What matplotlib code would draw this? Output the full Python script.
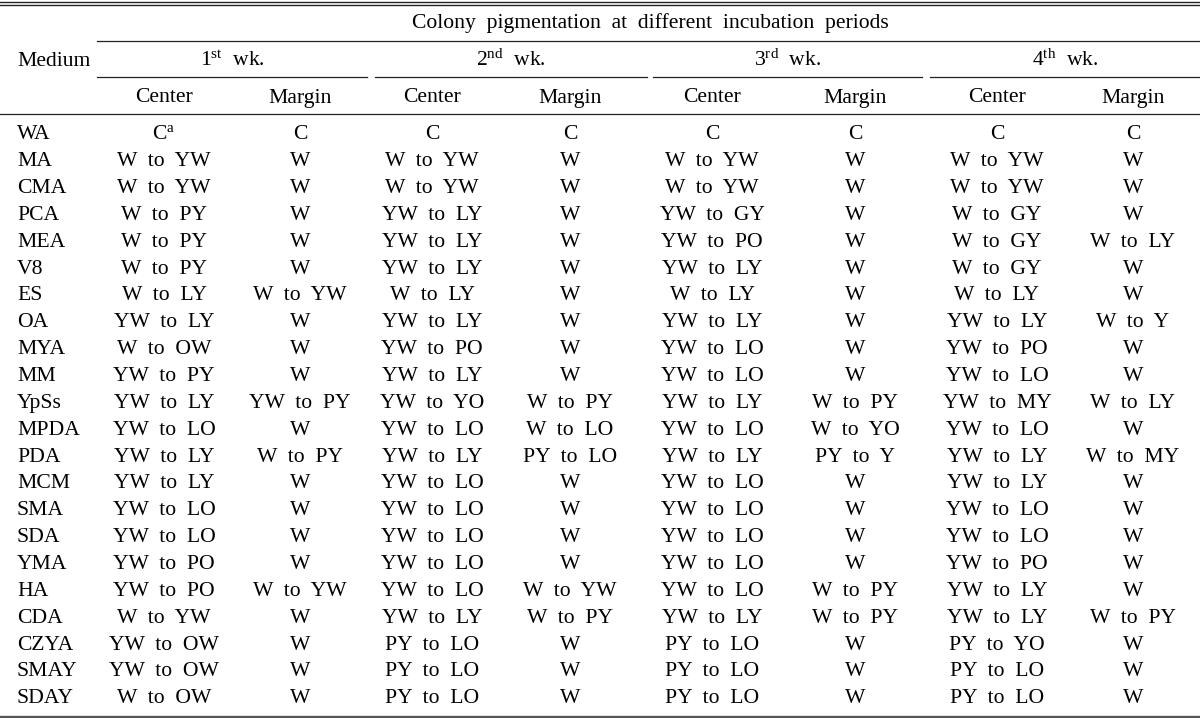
import matplotlib.pyplot as plt

plt.rcParams['font.family'] = ['Liberation Serif', 'DejaVu Serif']
plt.rcParams['mathtext.fontset'] = 'custom'
plt.rcParams['mathtext.rm'] = 'Liberation Serif'

title = "Colony  pigmentation  at  different  incubation  periods"
weeks = [r"$\mathregular{1^{st}}$  wk.", r"$\mathregular{2^{nd}}$  wk.",
         r"$\mathregular{3^{rd}}$  wk.", r"$\mathregular{4^{th}}$  wk."]
sub_headers = ["Center", "Margin"]

media = ["WA", "MA", "CMA", "PCA", "MEA", "V8", "ES", "OA", "MYA", "MM", "YpSs",
         "MPDA", "PDA", "MCM", "SMA", "SDA", "YMA", "HA", "CDA", "CZYA", "SMAY", "SDAY"]

wk1_center = [r"$\mathregular{C^{a}}$", "W to YW", "W to YW", "W to PY", "W to PY", "W to PY",
              "W to LY", "YW to LY", "W to OW", "YW to PY", "YW to LY", "YW to LO",
              "YW to LY", "YW to LY", "YW to LO", "YW to LO", "YW to PO", "YW to PO",
              "W to YW", "YW to OW", "YW to OW", "W to OW"]
wk1_margin = ["C", "W", "W", "W", "W", "W", "W to YW", "W", "W", "W", "YW to PY", "W",
              "W to PY", "W", "W", "W", "W", "W to YW", "W", "W", "W", "W"]
wk2_center = ["C", "W to YW", "W to YW", "YW to LY", "YW to LY", "YW to LY", "W to LY",
              "YW to LY", "YW to PO", "YW to LY", "YW to YO", "YW to LO", "YW to LY",
              "YW to LO", "YW to LO", "YW to LO", "YW to LO", "YW to LO", "YW to LY",
              "PY to LO", "PY to LO", "PY to LO"]
wk2_margin = ["C", "W", "W", "W", "W", "W", "W", "W", "W", "W", "W to PY", "W to LO",
              "PY to LO", "W", "W", "W", "W", "W to YW", "W to PY", "W", "W", "W"]
wk3_center = ["C", "W to YW", "W to YW", "YW to GY", "YW to PO", "YW to LY", "W to LY",
              "YW to LY", "YW to LO", "YW to LO", "YW to LY", "YW to LO", "YW to LY",
              "YW to LO", "YW to LO", "YW to LO", "YW to LO", "YW to LO", "YW to LY",
              "PY to LO", "PY to LO", "PY to LO"]
wk3_margin = ["C", "W", "W", "W", "W", "W", "W", "W", "W", "W", "W to PY", "W to YO",
              "PY to Y", "W", "W", "W", "W", "W to PY", "W to PY", "W", "W", "W"]
wk4_center = ["C", "W to YW", "W to YW", "W to GY", "W to GY", "W to GY", "W to LY",
              "YW to LY", "YW to PO", "YW to LO", "YW to MY", "YW to LO", "YW to LY",
              "YW to LY", "YW to LO", "YW to LO", "YW to PO", "YW to LY", "YW to LY",
              "PY to YO", "PY to LO", "PY to LO"]
wk4_margin = ["C", "W", "W", "W", "W to LY", "W", "W", "W to Y", "W", "W", "W to LY", "W",
              "W to MY", "W", "W", "W", "W", "W", "W to PY", "W", "W", "W"]

columns = [wk1_center, wk1_margin, wk2_center, wk2_margin,
           wk3_center, wk3_margin, wk4_center, wk4_margin]
col_x = [164, 300, 432, 570, 712, 855, 997, 1133]
week_spans = [(97, 367), (375, 647), (653, 922), (930, 1200)]

fig = plt.figure(figsize=(12, 7.18), dpi=100)
ax = fig.add_axes([0, 0, 1, 1])
ax.set_xlim(0, 1200)
ax.set_ylim(718, 0)
ax.axis('off')

fs = 15.6
line_c = '#222222'

# rules
ax.plot([0, 1200], [1.5, 1.5], color=line_c, lw=1.0)
ax.plot([0, 1200], [4.8, 4.8], color=line_c, lw=1.0)
ax.plot([97, 1200], [40.5, 40.5], color=line_c, lw=0.9)
for x0, x1 in week_spans:
    ax.plot([x0, x1], [77, 77], color=line_c, lw=0.9)
ax.plot([0, 1200], [114, 114], color=line_c, lw=0.9)
ax.plot([0, 1200], [716.5, 716.5], color='#555555', lw=2.4)

# header
ax.text(650, 28, title, ha='center', va='baseline', fontsize=fs)
ax.text(17, 66, "Medium", ha='left', va='baseline', fontsize=fs)
for (x0, x1), w in zip(week_spans, weeks):
    ax.text((x0 + x1) / 2, 66, w, ha='center', va='baseline', fontsize=fs)
for i, x in enumerate(col_x):
    ax.text(x, 102.5, sub_headers[i % 2], ha='center', va='baseline', fontsize=fs)

# body
row_y0 = 139.3
row_step = 26.86
for r, m in enumerate(media):
    y = row_y0 + r * row_step
    ax.text(17, y, m, ha='left', va='baseline', fontsize=fs)
    for x, col in zip(col_x, columns):
        ax.text(x, y, col[r].replace(" to ", "  to  "), ha='center', va='baseline', fontsize=fs)

fig.savefig("out.png", dpi=100)
